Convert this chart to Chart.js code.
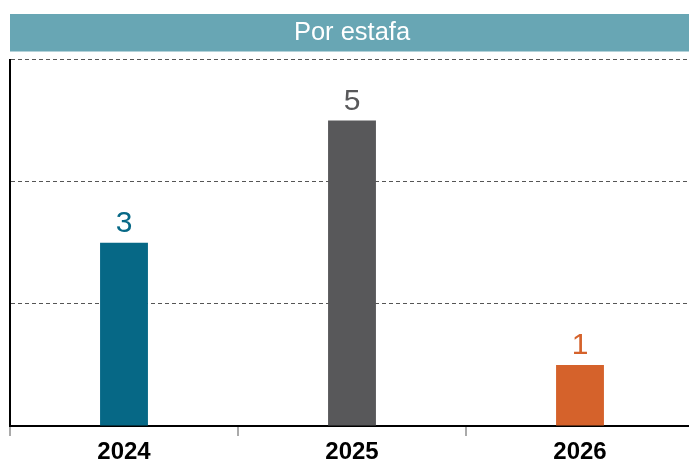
<!DOCTYPE html>
<html>
<head>
<meta charset="utf-8">
<script src="https://cdn.jsdelivr.net/npm/chart.js@4/dist/chart.umd.min.js"></script>
<style>
  html, body { margin: 0; padding: 0; background: #fff; overflow: hidden; }
  #wrap { width: 694px; height: 463px; position: relative; }
</style>
</head>
<body>
<div id="wrap"><canvas id="myChart"></canvas></div>
<script>
const chartTitle = 'Por estafa';
const years = ['2024', '2025', '2026'];
const cases = [3, 5, 1];
const barColors = ['#066886', '#58585a', '#d5622b'];
const yTicks = [0, 2, 4, 6];

// teal band behind the title
const titleBand = {
  id: 'titleBand',
  beforeDraw(chart) {
    const tb = chart.titleBlock;
    if (!tb) return;
    const ctx = chart.ctx;
    ctx.save();
    ctx.fillStyle = '#68a6b4';
    ctx.fillRect(tb.left, tb.top, tb.width, 37.5);
    ctx.restore();
  }
};

// value labels above the bars, same colour as the bar
const barValues = {
  id: 'barValues',
  afterDatasetsDraw(chart) {
    const ctx = chart.ctx;
    const meta = chart.getDatasetMeta(0);
    ctx.save();
    ctx.font = '30px "Liberation Sans", Arial, sans-serif';
    ctx.textAlign = 'center';
    ctx.textBaseline = 'alphabetic';
    meta.data.forEach((bar, i) => {
      ctx.fillStyle = barColors[i];
      ctx.fillText(String(cases[i]), bar.x, bar.y - 11);
    });
    ctx.restore();
  }
};

function drawChart(id) {
  new Chart(document.getElementById(id), {
    type: 'bar',
    data: {
      labels: years,
      datasets: [{
        data: cases,
        backgroundColor: barColors,
        barPercentage: 0.21,
        categoryPercentage: 1
      }]
    },
    options: {
      responsive: false,
      animation: false,
      layout: { padding: { left: 10, top: 14, right: 0, bottom: 0 } },
      plugins: {
        legend: { display: false },
        tooltip: { enabled: false },
        title: {
          display: true,
          text: chartTitle,
          color: '#ffffff',
          font: { family: '"Liberation Sans", Arial, sans-serif', size: 25.5, weight: 'normal', lineHeight: 1.06 },
          padding: { top: 5, bottom: 13.5 }
        }
      },
      scales: {
        x: {
          afterFit(axis) { axis.height = 37; },
          grid: {
            display: true,
            drawOnChartArea: false,
            drawTicks: true,
            tickLength: 10,
            color: '#aaaaaa',
            lineWidth: 2
          },
          border: { display: true, color: '#000000', width: 2 },
          ticks: {
            color: '#000000',
            padding: 5,
            font: { family: '"Liberation Sans", Arial, sans-serif', size: 24, weight: 'bold', lineHeight: 0.917 }
          }
        },
        y: {
          min: yTicks[0],
          max: yTicks[yTicks.length - 1],
          afterBuildTicks(axis) { axis.ticks = yTicks.map(v => ({ value: v })); },
          ticks: { display: false },
          grid: {
            drawTicks: false,
            tickLength: 0,
            color: '#555555',
            lineWidth: 1
          },
          border: { display: true, color: '#000000', width: 2, dash: [4, 3] }
        }
      }
    },
    plugins: [titleBand, barValues]
  });
}

window.onload = function () {
  const c = document.getElementById('myChart');
  c.width = 694;
  c.height = 463;
  drawChart('myChart');
};
</script>
</body>
</html>
